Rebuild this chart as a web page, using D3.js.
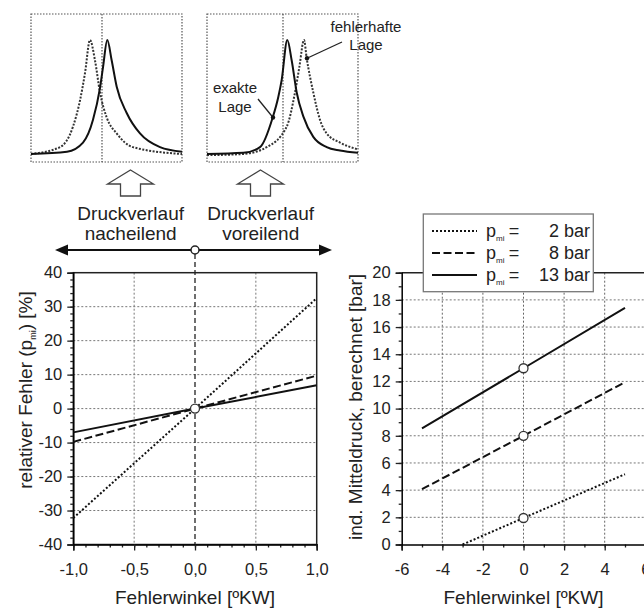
<!DOCTYPE html>
<html>
<head>
<meta charset="utf-8">
<script src="https://cdn.jsdelivr.net/npm/d3@7"></script>
<style>
  body { margin: 0; background: #fff; }
  text { font-family: "Liberation Sans", Arial, sans-serif; fill: #222; }
</style>
</head>
<body>
<div id="chart"></div>
<script>
const WIDTH = 644;
const HEIGHT = 608;

// left chart: relative error of p_mi over the error angle
const errAngle = [-1, 0, 1];
const relErr2 = [-32.2, 0, 32.5];
const relErr8 = [-9.8, 0, 9.7];
const relErr13 = [-7.0, 0, 6.85];

// right chart: computed p_mi over the error angle
const angle2 = [-3, 0, 5];
const pmi2 = [0, 1.95, 5.17];
const angle8 = [-5, 0, 5];
const pmi8 = [4.07, 8.0, 11.94];
const angle13 = [-5, 0, 5];
const pmi13 = [8.54, 12.97, 17.41];

const legendValues = ["2", "8", "13"];
const leftXTicks = [-1, -0.5, 0, 0.5, 1];
const leftYTicks = [-40, -30, -20, -10, 0, 10, 20, 30, 40];
const rightXTicks = [-6, -4, -2, 0, 2, 4, 6];
const rightYTicks = [0, 2, 4, 6, 8, 10, 12, 14, 16, 18, 20];

// small sketches of the pressure trace (crank angle units, normalised pressure)
const lagExactX = [0, 36, 52, 62, 69, 72, 76.3, 80.7, 85.7, 95.7, 109, 129, 151];
const lagExactY = [0, 0.02, 0.1, 0.3, 0.58, 0.76, 1, 0.82, 0.59, 0.36, 0.18, 0.06, 0.02];
const lagWrongX = [0, 29, 42, 49, 54, 59, 64, 69, 75.7, 85.7, 102, 151];
const lagWrongY = [0, 0.06, 0.24, 0.47, 0.71, 1, 0.82, 0.54, 0.32, 0.18, 0.06, 0];
const leadExactX = [0, 36.3, 53, 65.7, 71.3, 74.7, 80.3, 84.7, 89.7, 96.3, 106.3, 119.7, 133, 151];
const leadExactY = [0, 0.01, 0.06, 0.32, 0.5, 0.65, 1, 0.82, 0.54, 0.33, 0.15, 0.06, 0.03, 0.01];
const leadWrongX = [0, 36, 59.7, 79.7, 88, 92.3, 97, 99.7, 106.3, 113, 119.7, 133, 151];
const leadWrongY = [-0.01, 0, 0.06, 0.24, 0.54, 0.76, 1, 0.84, 0.54, 0.3, 0.18, 0.1, 0.04];

const svg = d3.select("#chart").append("svg")
    .attr("width", WIDTH)
    .attr("height", HEIGHT);

const styles = {
    p2: { dash: "2,2", width: 2 },
    p8: { dash: "8,3.5", width: 2 },
    p13: { dash: null, width: 2 }
};

// ---------- mini sketches ----------
const miniY = d3.scaleLinear().domain([0, 1]).range([154, 40]);
const miniLeftX = d3.scaleLinear().domain([0, 151]).range([31, 182]);
const miniRightX = d3.scaleLinear().domain([0, 151]).range([207, 358]);

function miniPanel(xs, centerX, exactX, exactY, wrongX, wrongY) {
    const g = svg.append("g");
    g.append("rect")
        .attr("x", xs(0)).attr("y", 14)
        .attr("width", xs(151) - xs(0)).attr("height", 148)
        .attr("fill", "none").attr("stroke", "#555")
        .attr("stroke-width", 1.2).attr("stroke-dasharray", "1.5,1.5");
    g.append("line")
        .attr("x1", xs(centerX)).attr("x2", xs(centerX))
        .attr("y1", 14).attr("y2", 162)
        .attr("stroke", "#444").attr("stroke-width", 1.1)
        .attr("stroke-dasharray", "1.5,1.5");
    const line = d3.line().x(d => xs(d[0])).y(d => miniY(d[1])).curve(d3.curveMonotoneX);
    g.append("path")
        .attr("d", line(wrongX.map((x, i) => [x, wrongY[i]])))
        .attr("fill", "none").attr("stroke", "#333")
        .attr("stroke-width", 2).attr("stroke-dasharray", "2,1.5");
    g.append("path")
        .attr("d", line(exactX.map((x, i) => [x, exactY[i]])))
        .attr("fill", "none").attr("stroke", "#111").attr("stroke-width", 2);
    return g;
}

miniPanel(miniLeftX, 71, lagExactX, lagExactY, lagWrongX, lagWrongY);
const rightMini = miniPanel(miniRightX, 76, leadExactX, leadExactY, leadWrongX, leadWrongY);

// annotations in the right sketch
rightMini.append("line")
    .attr("x1", 258).attr("y1", 99)
    .attr("x2", miniRightX(66)).attr("y2", miniY(0.32))
    .attr("stroke", "#222").attr("stroke-width", 1.3);
rightMini.append("circle")
    .attr("cx", miniRightX(66)).attr("cy", miniY(0.32)).attr("r", 2.2).attr("fill", "#111");
rightMini.append("text").attr("x", 235).attr("y", 93)
    .attr("text-anchor", "middle").attr("font-size", "15px").text("exakte");
rightMini.append("text").attr("x", 235).attr("y", 112)
    .attr("text-anchor", "middle").attr("font-size", "15px").text("Lage");

rightMini.append("line")
    .attr("x1", 342).attr("y1", 42)
    .attr("x2", miniRightX(100)).attr("y2", miniY(0.84))
    .attr("stroke", "#222").attr("stroke-width", 1.3);
rightMini.append("circle")
    .attr("cx", miniRightX(100)).attr("cy", miniY(0.84)).attr("r", 2.2).attr("fill", "#111");
rightMini.append("text").attr("x", 366).attr("y", 32)
    .attr("text-anchor", "middle").attr("font-size", "15px").text("fehlerhafte");
rightMini.append("text").attr("x", 366).attr("y", 50)
    .attr("text-anchor", "middle").attr("font-size", "15px").text("Lage");

// hollow block arrows
[130.5, 260.5].forEach(cx => {
    const pts = [[cx, 170], [cx + 23, 184], [cx + 10, 184], [cx + 10, 196],
                 [cx - 10, 196], [cx - 10, 184], [cx - 23, 184]];
    svg.append("polygon")
        .attr("points", pts.map(p => p.join(",")).join(" "))
        .attr("fill", "#fff").attr("stroke", "#444").attr("stroke-width", 1.3);
});

[["Druckverlauf", "nacheilend", 130.7], ["Druckverlauf", "voreilend", 260.7]].forEach(([a, b, cx]) => {
    svg.append("text").attr("x", cx).attr("y", 220)
        .attr("text-anchor", "middle").attr("font-size", "19px").text(a);
    svg.append("text").attr("x", cx).attr("y", 240)
        .attr("text-anchor", "middle").attr("font-size", "19px").text(b);
});

// ---------- left chart ----------
const xL = d3.scaleLinear().domain([-1, 1]).range([73.3, 316.7]);
const yL = d3.scaleLinear().domain([-40, 40]).range([544.5, 272.7]);

const gL = svg.append("g");

// double arrow
gL.append("line")
    .attr("x1", 62).attr("x2", 324).attr("y1", 250).attr("y2", 250)
    .attr("stroke", "#111").attr("stroke-width", 2);
gL.append("polygon").attr("points", "55,250 68,244.5 68,255.5").attr("fill", "#111");
gL.append("polygon").attr("points", "332,250 319,244.5 319,255.5").attr("fill", "#111");

// grid
gL.selectAll(".gx").data(leftXTicks.filter(d => d !== 0 && Math.abs(d) !== 1)).enter()
    .append("line")
    .attr("x1", d => xL(d)).attr("x2", d => xL(d))
    .attr("y1", yL(40)).attr("y2", yL(-40))
    .attr("stroke", "#777").attr("stroke-width", 1).attr("stroke-dasharray", "2,2");
gL.selectAll(".gy").data(leftYTicks.filter(d => Math.abs(d) !== 40)).enter()
    .append("line")
    .attr("x1", xL(-1)).attr("x2", xL(1))
    .attr("y1", d => yL(d)).attr("y2", d => yL(d))
    .attr("stroke", "#777").attr("stroke-width", 1).attr("stroke-dasharray", "2,2");

// zero line through to the arrow
gL.append("line")
    .attr("x1", xL(0)).attr("x2", xL(0))
    .attr("y1", 254).attr("y2", yL(-40))
    .attr("stroke", "#222").attr("stroke-width", 1.3).attr("stroke-dasharray", "5,3");
gL.append("circle").attr("cx", xL(0)).attr("cy", 250).attr("r", 4)
    .attr("fill", "#fff").attr("stroke", "#222").attr("stroke-width", 1.5);

// frame
gL.append("rect")
    .attr("x", xL(-1)).attr("y", yL(40))
    .attr("width", xL(1) - xL(-1)).attr("height", yL(-40) - yL(40))
    .attr("fill", "none").attr("stroke", "#222").attr("stroke-width", 1.5);

// hyphen minus like the original
const fmtComma = d => d.toFixed(1).replace(".", ",");
const fmtInt = d => String(d);

function addAxes(g, x, y, xMajor, xMinor, yMajor, yMinor, xFmt) {
    const bottom = y.range()[0];
    const left = x.range()[0];
    g.append("g").attr("transform", `translate(0,${bottom})`)
        .call(d3.axisBottom(x).tickValues(xMinor).tickSize(3).tickFormat(""))
        .call(a => a.select(".domain").remove());
    g.append("g").attr("transform", `translate(0,${bottom})`)
        .call(d3.axisBottom(x).tickValues(xMajor).tickSize(6).tickPadding(13).tickFormat(xFmt))
        .call(a => a.select(".domain").attr("stroke-width", 1.5));
    g.append("g").attr("transform", `translate(${left},0)`)
        .call(d3.axisLeft(y).tickValues(yMinor).tickSize(3).tickFormat(""))
        .call(a => a.select(".domain").remove());
    g.append("g").attr("transform", `translate(${left},0)`)
        .call(d3.axisLeft(y).tickValues(yMajor).tickSize(6).tickPadding(5).tickFormat(fmtInt))
        .call(a => a.select(".domain").attr("stroke-width", 1.5));
    g.selectAll(".tick line").attr("stroke", "#222").attr("stroke-width", 1.3);
    g.selectAll(".tick text")
        .attr("font-family", '"Liberation Sans", Arial, sans-serif')
        .attr("font-size", "16.5px").attr("fill", "#333");
}

addAxes(gL, xL, yL, leftXTicks, d3.range(-10, 11).map(d => d / 10),
    leftYTicks, d3.range(-40, 41, 2), fmtComma);

// data lines
const lineL = d3.line().x(d => xL(d[0])).y(d => yL(d[1]));
[[relErr2, styles.p2], [relErr8, styles.p8], [relErr13, styles.p13]].forEach(([vals, st]) => {
    gL.append("path")
        .attr("d", lineL(errAngle.map((a, i) => [a, vals[i]])))
        .attr("fill", "none").attr("stroke", "#111")
        .attr("stroke-width", st.width).attr("stroke-dasharray", st.dash);
});
gL.append("circle").attr("cx", xL(0)).attr("cy", yL(0)).attr("r", 4.5)
    .attr("fill", "#fff").attr("stroke", "#333").attr("stroke-width", 1.3);

gL.append("text").attr("x", xL(0)).attr("y", 604)
    .attr("text-anchor", "middle").attr("font-size", "19px").text("Fehlerwinkel [ºKW]");
const tl = gL.append("text")
    .attr("transform", "translate(32,390) rotate(-90)")
    .attr("text-anchor", "middle").attr("font-size", "19px");
tl.append("tspan").text("relativer Fehler (p");
tl.append("tspan").attr("font-size", "9px").attr("dy", 4).text("mi");
tl.append("tspan").attr("dy", -4).text(") [%]");

// ---------- right chart ----------
const xR = d3.scaleLinear().domain([-6, 6]).range([401.7, 645.3]);
const yR = d3.scaleLinear().domain([0, 20]).range([544.5, 272.7]);
const gR = svg.append("g");

gR.selectAll(".gx").data(rightXTicks.filter(d => Math.abs(d) !== 6)).enter()
    .append("line")
    .attr("x1", d => xR(d)).attr("x2", d => xR(d))
    .attr("y1", yR(20)).attr("y2", yR(0))
    .attr("stroke", "#666").attr("stroke-width", 1).attr("stroke-dasharray", "2,2");
gR.selectAll(".gy").data(rightYTicks.filter(d => d !== 0 && d !== 20)).enter()
    .append("line")
    .attr("x1", xR(-6)).attr("x2", xR(6))
    .attr("y1", d => yR(d)).attr("y2", d => yR(d))
    .attr("stroke", "#777").attr("stroke-width", 1).attr("stroke-dasharray", "2,2");
gR.append("line")
    .attr("x1", xR(-6)).attr("x2", xR(6))
    .attr("y1", yR(20)).attr("y2", yR(20))
    .attr("stroke", "#222").attr("stroke-width", 1.5);

addAxes(gR, xR, yR, rightXTicks, d3.range(-6, 7), rightYTicks, d3.range(0, 21), fmtInt);

const lineR = d3.line().x(d => xR(d[0])).y(d => yR(d[1]));
const seriesR = [[angle2, pmi2, styles.p2], [angle8, pmi8, styles.p8], [angle13, pmi13, styles.p13]];
seriesR.forEach(([xs, vals, st]) => {
    gR.append("path")
        .attr("d", lineR(xs.map((a, i) => [a, vals[i]])))
        .attr("fill", "none").attr("stroke", "#111")
        .attr("stroke-width", st.width).attr("stroke-dasharray", st.dash);
});
seriesR.forEach(([xs, vals]) => {
    const i = xs.indexOf(0);
    gR.append("circle").attr("cx", xR(0)).attr("cy", yR(vals[i])).attr("r", 4.5)
        .attr("fill", "#fff").attr("stroke", "#333").attr("stroke-width", 1.3);
});

gR.append("text").attr("x", xR(0)).attr("y", 604)
    .attr("text-anchor", "middle").attr("font-size", "19px").text("Fehlerwinkel [ºKW]");
gR.append("text")
    .attr("transform", "translate(362,407) rotate(-90)")
    .attr("text-anchor", "middle").attr("font-size", "19px")
    .text("ind. Mitteldruck, berechnet [bar]");

// legend
const lg = svg.append("g");
lg.append("rect").attr("x", 423.3).attr("y", 214).attr("width", 170).attr("height", 77.7)
    .attr("fill", "#fff").attr("stroke", "#777").attr("stroke-width", 1.3);
const legendStyles = [styles.p2, styles.p8, styles.p13];
legendValues.forEach((v, i) => {
    const cy = 231 + i * 22;
    lg.append("line").attr("x1", 432).attr("x2", 477).attr("y1", cy).attr("y2", cy)
        .attr("stroke", "#111").attr("stroke-width", legendStyles[i].width)
        .attr("stroke-dasharray", legendStyles[i].dash);
    const t = lg.append("text").attr("x", 486).attr("y", cy + 6).attr("font-size", "18px");
    t.append("tspan").text("p");
    t.append("tspan").attr("font-size", "8px").attr("dy", 4).text("mi");
    lg.append("text").attr("x", 514).attr("y", cy + 6).attr("text-anchor", "middle")
        .attr("font-size", "18px").text("=");
    lg.append("text").attr("x", 559).attr("y", cy + 6).attr("text-anchor", "end")
        .attr("font-size", "18px").text(v);
    lg.append("text").attr("x", 564).attr("y", cy + 6)
        .attr("font-size", "18px").text("bar");
});
</script>
</body>
</html>
